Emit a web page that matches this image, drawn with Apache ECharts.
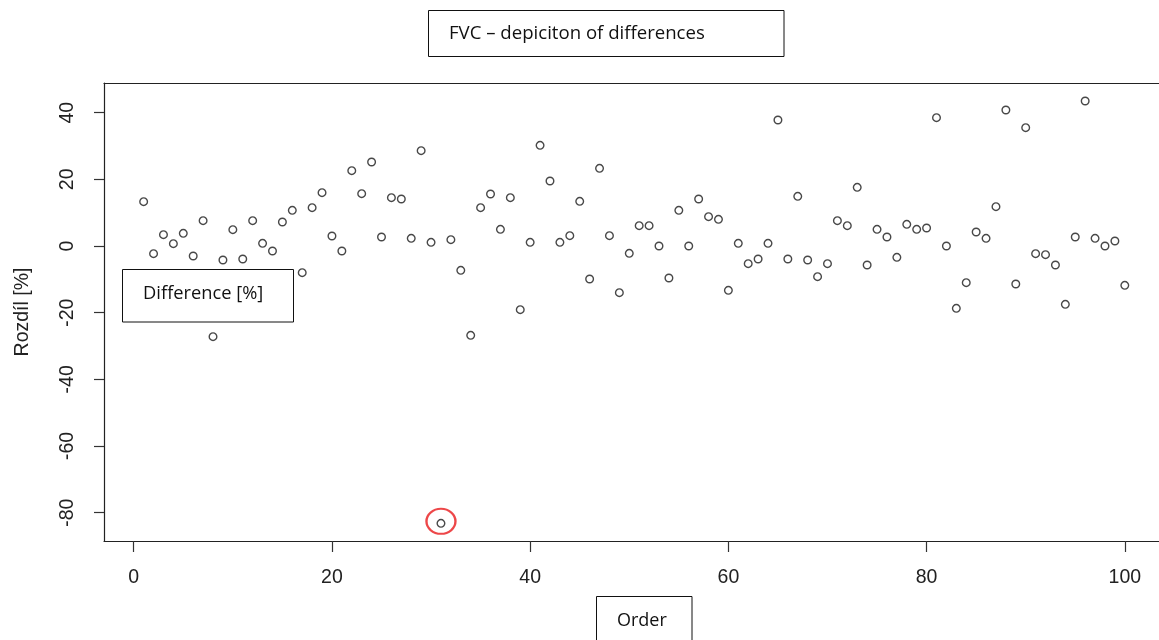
<!DOCTYPE html>
<html>
<head>
<meta charset="utf-8">
<script src="https://cdn.jsdelivr.net/npm/echarts@6/dist/echarts.min.js"></script>
<style>html,body{margin:0;padding:0;background:#fff}#c{width:1159px;height:640px}</style>
</head>
<body>
<div id="c"></div>
<script>
// Difference [%] for each order 1..100
const differences = [
  13.3, -2.3, 3.4, 0.7, 3.8, -3.0, 7.6, -27.2, -4.2, 4.9,
  -3.9, 7.6, 0.8, -1.5, 7.2, 10.7, -8.0, 11.5, 16.0, 3.0,
  -1.5, 22.6, 15.7, 25.2, 2.7, 14.5, 14.1, 2.3, 28.6, 1.1,
  -83.2, 1.9, -7.3, -26.8, 11.5, 15.6, 5.0, 14.5, -19.1, 1.1,
  30.2, 19.5, 1.1, 3.1, 13.4, -9.9, 23.3, 3.1, -14.0, -2.2,
  6.1, 6.1, 0.0, -9.6, 10.7, 0.0, 14.1, 8.8, 8.0, -13.3,
  0.8, -5.3, -3.9, 0.8, 37.8, -3.9, 14.9, -4.2, -9.2, -5.3,
  7.6, 6.1, 17.6, -5.7, 5.0, 2.7, -3.4, 6.5, 5.0, 5.4,
  38.5, 0.0, -18.7, -11.0, 4.2, 2.3, 11.8, 40.8, -11.4, 35.5,
  -2.3, -2.6, -5.7, -17.5, 2.7, 43.5, 2.3, 0.0, 1.5, -11.8
];
const highlightedOrder = 31;
const xTicks = [0, 20, 40, 60, 80, 100];
const yTicks = [-80, -60, -40, -20, 0, 20, 40];
const titleText = 'FVC \u2013 depiciton of differences';
const yName = 'Rozdíl [%]';
const legendText = 'Difference [%]';
const xName = 'Order';

const points = differences.map((v, i) => [i + 1, v]);
const highlight = [[highlightedOrder, differences[highlightedOrder - 1]]];

const chart = echarts.init(document.getElementById('c'), null, {renderer: 'canvas'});
const axisFont = {fontFamily: 'Liberation Sans, Arial, sans-serif', fontSize: 19.5, color: '#222'};
const boxFont = '"Open Sans", "Noto Sans", sans-serif';
const frameLine = {show: true, onZero: false, lineStyle: {color: '#222', width: 1.2}};

chart.setOption({
  animation: false,
  backgroundColor: '#fff',
  grid: {left: 104, top: 83, bottom: 99, right: 0, show: false},
  xAxis: [{
    type: 'value', min: -3, max: 103.45, position: 'bottom',
    axisLine: frameLine,
    splitLine: {show: false},
    axisTick: {show: true, customValues: xTicks, length: 11, lineStyle: {color: '#333', width: 1.2}},
    axisLabel: Object.assign({customValues: xTicks, margin: 27}, axisFont)
  }, {
    type: 'value', min: -3, max: 103.45, position: 'top',
    axisLine: frameLine,
    splitLine: {show: false}, axisTick: {show: false}, axisLabel: {show: false}
  }],
  yAxis: {
    type: 'value', min: -88.5, max: 48.9,
    name: yName, nameLocation: 'middle', nameGap: 71, nameRotate: 90,
    nameTextStyle: axisFont,
    axisLine: frameLine,
    splitLine: {show: false},
    axisTick: {show: true, customValues: yTicks, length: 10, lineStyle: {color: '#333', width: 1.2}},
    axisLabel: Object.assign({customValues: yTicks, margin: 26, rotate: 90}, axisFont)
  },
  series: [
    {
      type: 'scatter', data: points, symbol: 'circle', symbolSize: 7.6,
      itemStyle: {color: '#fff', borderColor: '#1a1a1a', borderWidth: 1.4},
      silent: true
    },
    {
      type: 'scatter', data: highlight, symbol: 'circle', symbolSize: [29, 25], symbolOffset: [0, -2],
      itemStyle: {color: 'rgba(0,0,0,0)', borderColor: '#e8191b', borderWidth: 2.2},
      z: 3, silent: true
    }
  ],
  graphic: [
    {type: 'rect', shape: {x: 428.5, y: 10.5, width: 355.5, height: 46}, style: {fill: '#fff', stroke: '#111', lineWidth: 1}},
    {type: 'text', x: 449, y: 34, style: {text: titleText, font: '18.6px ' + boxFont, fill: '#111', verticalAlign: 'middle'}},
    {type: 'rect', shape: {x: 122.5, y: 269.5, width: 171, height: 52.5}, style: {fill: '#fff', stroke: '#111', lineWidth: 1}, z: 10},
    {type: 'text', x: 143, y: 294, style: {text: legendText, font: '18.3px ' + boxFont, fill: '#111', verticalAlign: 'middle'}, z: 11},
    {type: 'rect', shape: {x: 596.5, y: 596.5, width: 95.5, height: 60}, style: {fill: '#fff', stroke: '#111', lineWidth: 1}},
    {type: 'text', x: 617, y: 621, style: {text: xName, font: '18px ' + boxFont, fill: '#111', verticalAlign: 'middle'}}
  ]
});
</script>
</body>
</html>
